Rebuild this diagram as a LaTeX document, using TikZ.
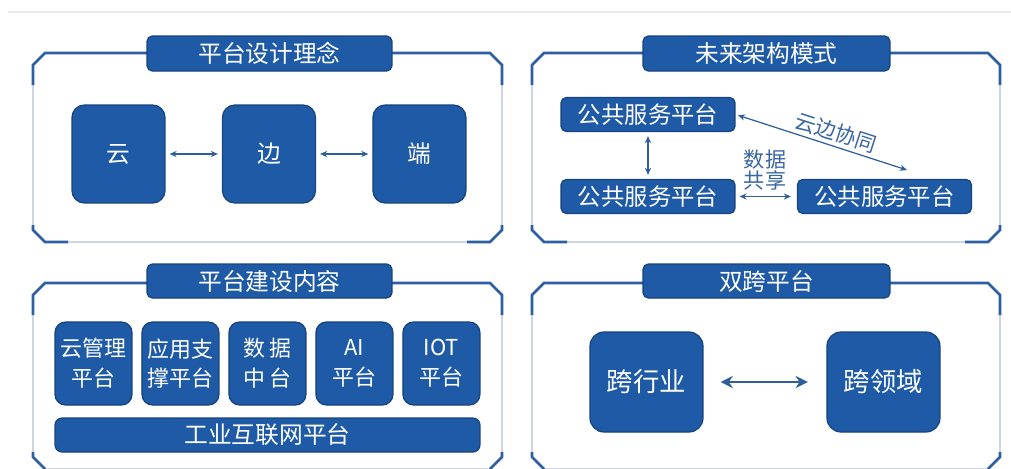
\documentclass[tikz,border=0pt]{standalone}
\usepackage{fontspec}
\setmainfont{Noto Sans CJK SC}
\usetikzlibrary{arrows.meta,positioning}
\definecolor{boxBlue}{HTML}{1E5AA5}
\definecolor{boxEdge}{HTML}{17447E}
\definecolor{frameBlue}{HTML}{2C5FA3}
\definecolor{frameGrey}{HTML}{B2BFD0}
\definecolor{arrowBlue}{HTML}{2E5E9C}
\definecolor{labelBlue}{HTML}{3A66A3}

\begin{document}
\begin{tikzpicture}[x=0.02cm,y=-0.02cm,on grid,
    block/.style={fill=boxBlue,draw=boxEdge,line width=0.7pt,rounded corners=5pt,text=white,inner sep=0pt,align=center},
    heading/.style={block,rounded corners=3pt,minimum height=0.7cm,font=\fontsize{13.5}{16}\selectfont},
    bigbox/.style={block,rounded corners=7pt,minimum width=1.86cm,minimum height=1.96cm,font=\fontsize{13.5}{16}\selectfont},
    platform/.style={block,rounded corners=3pt,minimum width=3.48cm,minimum height=0.68cm,font=\fontsize{13.3}{16}\selectfont},
    module/.style={block,rounded corners=6pt,minimum width=1.54cm,minimum height=1.66cm,font=\fontsize{12.5}{17}\selectfont},
    crossbox/.style={block,rounded corners=8pt,minimum width=2.26cm,minimum height=2cm,font=\fontsize{15}{18}\selectfont},
    thinframe/.style={frameGrey,line width=0.8pt},
    thickframe/.style={frameBlue,line width=1.5pt},
    link/.style={{Stealth[length=4pt,width=3.5pt]}-{Stealth[length=4pt,width=3.5pt]},arrowBlue,line width=0.7pt,shorten >=0.08cm,shorten <=0.08cm},
    biglink/.style={{Stealth[length=7pt,width=7pt]}-{Stealth[length=7pt,width=7pt]},arrowBlue,line width=1.4pt,shorten >=0.37cm,shorten <=0.34cm}]

    \useasboundingbox[fill=white] (0,0) rectangle (1011,468);
    \draw[black!8,line width=0.6pt] (8,12) -- (1011,12);

    % frames
    \draw[thinframe] (33,65) -- (45,53) -- (490,53) -- (502,65) -- (502,230) -- (490,242) -- (45,242) -- (33,230) -- cycle;
    \draw[thickframe] (33,85) -- (33,65) -- (45,53) -- (490,53) -- (502,65) -- (502,85);
    \draw[thickframe] (33,225) -- (33,230) -- (45,242) -- (68,242);
    \draw[thickframe] (467,242) -- (490,242) -- (502,230) -- (502,225);

    \draw[thinframe] (532,65) -- (544,53) -- (988,53) -- (1000,65) -- (1000,230) -- (988,242) -- (544,242) -- (532,230) -- cycle;
    \draw[thickframe] (532,85) -- (532,65) -- (544,53) -- (988,53) -- (1000,65) -- (1000,85);
    \draw[thickframe] (532,225) -- (532,230) -- (544,242) -- (567,242);
    \draw[thickframe] (965,242) -- (988,242) -- (1000,230) -- (1000,225);

    \draw[thinframe] (33,295) -- (45,283) -- (490,283) -- (502,295) -- (502,457) -- (490,469) -- (45,469) -- (33,457) -- cycle;
    \draw[thickframe] (33,315) -- (33,295) -- (45,283) -- (490,283) -- (502,295) -- (502,315);
    \draw[thickframe] (33,452) -- (33,457) -- (45,469);
    \draw[thickframe] (490,469) -- (502,457) -- (502,452);

    \draw[thinframe] (532,295) -- (544,283) -- (988,283) -- (1000,295) -- (1000,457) -- (988,469) -- (544,469) -- (532,457) -- cycle;
    \draw[thickframe] (532,315) -- (532,295) -- (544,283) -- (988,283) -- (1000,295) -- (1000,315);
    \draw[thickframe] (532,452) -- (532,457) -- (544,469);
    \draw[thickframe] (988,469) -- (1000,457) -- (1000,452);

    % platform design concept
    \node[heading,minimum width=4.9cm] (designTitle) at (269.5,53.5) {平台设计理念};
    \node[bigbox] (cloudNode) at (118.5,154) {云};
    \node[bigbox,right=3.01cm of cloudNode] (edgeNode) {边};
    \node[bigbox,right=3.01cm of edgeNode] (endNode) {端};
    \draw[link] (cloudNode) -- (edgeNode);
    \draw[link] (edgeNode) -- (endNode);

    % future architecture
    \node[heading,minimum width=4.94cm] (futureTitle) at (766.5,53.5) {未来架构模式};
    \node[platform] (cloudPlatform) at (648,114.5) {公共服务平台};
    \node[platform,below=1.64cm of cloudPlatform] (edgePlatform) {公共服务平台};
    \node[platform,right=4.73cm of edgePlatform] (endPlatform) {公共服务平台};
    \coordinate (syncEnd) at (907,170);
    \draw[link,shorten <=0.05cm,shorten >=0cm] (cloudPlatform.east) -- (syncEnd) node[pos=0.56,sloped,above,inner sep=2pt,text=labelBlue,font=\fontsize{12}{14}\selectfont] (syncLabel) {云边协同};
    \draw[link] (cloudPlatform) -- (edgePlatform);
    \draw[link,shorten >=0.12cm] (edgePlatform) -- (endPlatform);
    \node[text=labelBlue,align=center,inner sep=0pt,font=\fontsize{12}{11.4}\selectfont] (shareLabel) at (765,170) {数据\\共享};

    % platform construction
    \node[heading,minimum width=4.9cm,minimum height=0.68cm] (buildTitle) at (269.5,281) {平台建设内容};
    \node[module] (cloudMgmt) at (93.5,363.5) {云管理\\平台};
    \node[module,right=1.74cm of cloudMgmt] (appSupport) {应用支\\撑平台};
    \node[module,right=1.74cm of appSupport] (dataHub) {数 据\\中 台};
    \node[module,right=1.74cm of dataHub] (aiPlatform) {AI\\平台};
    \node[module,right=1.74cm of aiPlatform] (iotPlatform) {IOT\\平台};
    \node[block,rounded corners=4pt,minimum width=8.5cm,minimum height=0.68cm,font=\fontsize{13.5}{16}\selectfont] (iiotBar) at (267.5,435) {工业互联网平台};

    % dual cross platform
    \node[heading,minimum width=4.94cm,minimum height=0.68cm] (dualTitle) at (766.5,281) {双跨平台};
    \node[crossbox] (crossIndustry) at (646.5,382) {跨行业};
    \node[crossbox,right=4.74cm of crossIndustry] (crossDomain) {跨领域};
    \draw[biglink] (crossIndustry) -- (crossDomain);

\end{tikzpicture}
\end{document}
